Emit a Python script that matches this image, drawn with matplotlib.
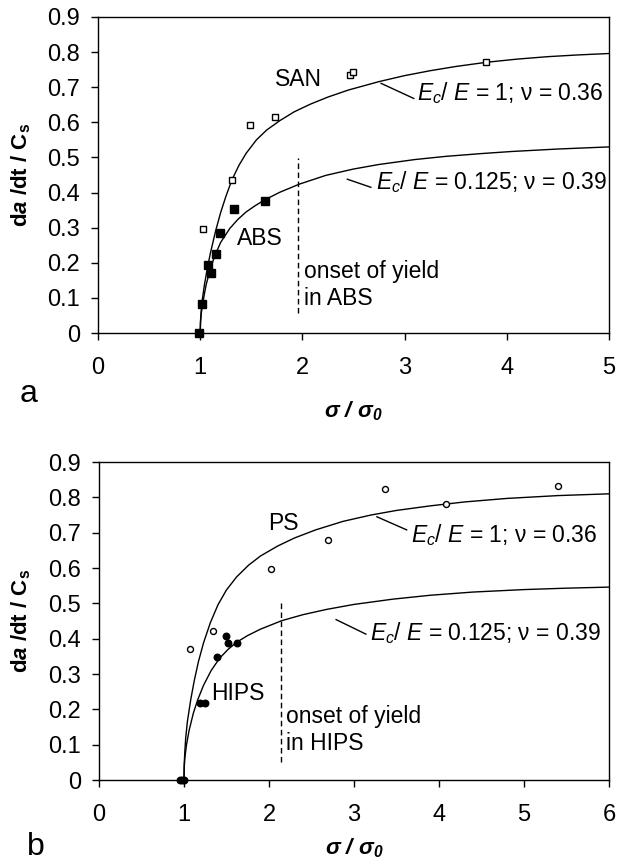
import matplotlib
matplotlib.use('Agg')
import matplotlib.pyplot as plt

plt.rcParams['font.family'] = ['Liberation Sans', 'DejaVu Sans']
plt.rcParams['mathtext.fontset'] = 'custom'
plt.rcParams['mathtext.rm'] = 'Liberation Sans'
plt.rcParams['mathtext.it'] = 'Liberation Sans:italic'
plt.rcParams['mathtext.bf'] = 'Liberation Sans:bold'
plt.rcParams['mathtext.bfit'] = 'Liberation Sans:italic:bold'

# Panel a: measured points
san_x = [1.03, 1.31, 1.49, 1.73, 2.47, 2.50, 3.80]
san_y = [0.295, 0.436, 0.593, 0.614, 0.735, 0.742, 0.771]
abs_x = [0.985, 1.02, 1.076, 1.11, 1.15, 1.197, 1.33, 1.63]
abs_y = [0.0, 0.083, 0.194, 0.170, 0.224, 0.286, 0.352, 0.377]

# Panel a: model curves
san_fit_x = [1.0, 1.003, 1.01, 1.02, 1.04, 1.07, 1.10, 1.15, 1.20, 1.25, 1.31,
             1.38, 1.45, 1.55, 1.65, 1.78, 1.92, 2.08, 2.25, 2.45, 2.75, 3.0,
             3.25, 3.5, 3.8, 4.1, 4.4, 4.7, 5.0]
san_fit_y = [0.0, 0.035, 0.065, 0.094, 0.135, 0.185, 0.228, 0.290, 0.343, 0.388,
             0.436, 0.478, 0.512, 0.550, 0.578, 0.605, 0.630, 0.652, 0.672, 0.692,
             0.716, 0.733, 0.747, 0.759, 0.771, 0.780, 0.787, 0.792, 0.796]
abs_fit_x = [1.0, 1.003, 1.01, 1.02, 1.04, 1.06, 1.10, 1.14, 1.20, 1.29, 1.37,
             1.45, 1.54, 1.63, 1.78, 1.97, 2.23, 2.5, 2.75, 3.1, 3.4, 3.75,
             4.05, 4.5, 5.0]
abs_fit_y = [0.0, 0.030, 0.055, 0.075, 0.110, 0.140, 0.183, 0.218, 0.258, 0.298,
             0.324, 0.345, 0.363, 0.379, 0.401, 0.424, 0.449, 0.467, 0.480, 0.494,
             0.503, 0.511, 0.517, 0.524, 0.530]

# Panel b: measured points
ps_x = [1.07, 1.345, 2.02, 2.69, 3.36, 4.08, 5.40]
ps_y = [0.372, 0.422, 0.596, 0.679, 0.824, 0.781, 0.832]
hips_x = [0.95, 0.98, 1.0, 1.19, 1.25, 1.385, 1.49, 1.52, 1.62]
hips_y = [0.0, 0.0, 0.0, 0.217, 0.217, 0.347, 0.408, 0.387, 0.389]

# Panel b: model curves
ps_fit_x = [1.0, 1.003, 1.01, 1.02, 1.04, 1.08, 1.12, 1.17, 1.23, 1.31, 1.40,
            1.50, 1.62, 1.76, 1.90, 2.10, 2.30, 2.55, 2.87, 3.2, 3.5, 3.9,
            4.3, 4.8, 5.4, 6.0]
ps_fit_y = [0.0, 0.045, 0.080, 0.118, 0.165, 0.228, 0.280, 0.335, 0.388, 0.445,
            0.496, 0.538, 0.575, 0.608, 0.634, 0.662, 0.685, 0.708, 0.732, 0.750,
            0.763, 0.776, 0.787, 0.797, 0.805, 0.810]
hips_fit_x = [1.0, 1.003, 1.01, 1.03, 1.06, 1.11, 1.16, 1.23, 1.32, 1.42, 1.52,
              1.62, 1.75, 1.90, 2.15, 2.4, 2.68, 3.0, 3.46, 3.9, 4.4, 5.0,
              5.5, 6.0]
hips_fit_y = [0.0, 0.035, 0.062, 0.100, 0.140, 0.189, 0.226, 0.268, 0.310, 0.345,
              0.370, 0.390, 0.409, 0.427, 0.451, 0.468, 0.483, 0.497, 0.512, 0.523,
              0.532, 0.539, 0.543, 0.546]

yticks = [0, 0.1, 0.2, 0.3, 0.4, 0.5, 0.6, 0.7, 0.8, 0.9]
ytick_labels = ['0', '0.1', '0.2', '0.3', '0.4', '0.5', '0.6', '0.7', '0.8', '0.9']

fs = 16.5
fig = plt.figure(figsize=(6.3, 8.67), dpi=100)
ax1 = fig.add_axes([0.1556, 0.6159, 0.811, 0.3645])
ax2 = fig.add_axes([0.1571, 0.1003, 0.8095, 0.3668])


def style_axes(ax, xmax, ylab_x, xlab_y):
    ax.set_xlim(0, xmax)
    ax.set_ylim(0, 0.9)
    ax.set_xticks(range(0, xmax + 1))
    ax.set_yticks(yticks)
    ax.set_yticklabels(ytick_labels)
    ax.tick_params(direction='out', length=5, width=1, labelsize=17,
                   top=False, right=False)
    ax.tick_params(axis='x', pad=12)
    ax.tick_params(axis='y', pad=8)
    for s in ax.spines.values():
        s.set_linewidth(1)
    ax.set_ylabel(r'd$\mathbfit{a}$ /dt / C$_\mathbf{s}$', fontsize=16,
                  fontweight='bold')
    ax.yaxis.set_label_coords(ylab_x, 0.5)
    ax.set_xlabel(r'$\mathbfit{\sigma\ /\ \sigma_0}$', fontsize=16)
    ax.xaxis.set_label_coords(0.5, xlab_y)


# ---- panel a ----
style_axes(ax1, 5, -0.127, -0.209)
ax1.plot(san_fit_x, san_fit_y, color='black', lw=1)
ax1.plot(abs_fit_x, abs_fit_y, color='black', lw=1)
ax1.plot(san_x, san_y, 's', ms=5, mfc='white', mec='black', mew=1, clip_on=False)
ax1.plot(abs_x, abs_y, 's', ms=6, mfc='black', mec='black', clip_on=False)
ax1.plot([1.96, 1.96], [0.057, 0.498], color='black', lw=1, dashes=[4, 2.5])
ax1.text(2.02, 0.137, 'onset of yield\nin ABS', fontsize=fs, va='center', ha='left')
ax1.text(1.73, 0.721, 'SAN', fontsize=fs, va='center', ha='left')
ax1.text(1.355, 0.27, 'ABS', fontsize=fs, va='center', ha='left')
ax1.plot([2.77, 3.09], [0.711, 0.668], color='black', lw=1)
ax1.text(3.12, 0.684, r'$E_c$/ $E$ = 1; ν = 0.36', fontsize=fs, va='center', ha='left')
ax1.plot([2.44, 2.67], [0.438, 0.415], color='black', lw=1)
ax1.text(2.72, 0.43, r'$E_c$/ $E$ = 0.125; ν = 0.39', fontsize=fs, va='center', ha='left')

# ---- panel b ----
style_axes(ax2, 6, -0.129, -0.176)
ax2.plot(ps_fit_x, ps_fit_y, color='black', lw=1)
ax2.plot(hips_fit_x, hips_fit_y, color='black', lw=1)
ax2.plot(ps_x, ps_y, 'o', ms=4.3, mfc='white', mec='black', mew=1, clip_on=False)
ax2.plot(hips_x, hips_y, 'o', ms=4.7, mfc='black', mec='black', clip_on=False)
ax2.plot([2.14, 2.14], [0.05, 0.507], color='black', lw=1, dashes=[4, 2.5])
ax2.text(2.2, 0.141, 'onset of yield\nin HIPS', fontsize=fs, va='center', ha='left')
ax2.text(1.99, 0.727, 'PS', fontsize=fs, va='center', ha='left')
ax2.text(1.325, 0.246, 'HIPS', fontsize=fs, va='center', ha='left')
ax2.plot([3.27, 3.62], [0.745, 0.708], color='black', lw=1)
ax2.text(3.67, 0.693, r'$E_c$/ $E$ = 1; ν = 0.36', fontsize=fs, va='center', ha='left')
ax2.plot([2.79, 3.14], [0.454, 0.413], color='black', lw=1)
ax2.text(3.19, 0.416, r'$E_c$/ $E$ = 0.125; ν = 0.39', fontsize=fs, va='center', ha='left')

fig.text(20 / 630, 1 - 402 / 867, 'a', fontsize=23, ha='left', va='baseline')
fig.text(27 / 630, 1 - 855 / 867, 'b', fontsize=23, ha='left', va='baseline')

fig.savefig('out.png', dpi=100)
